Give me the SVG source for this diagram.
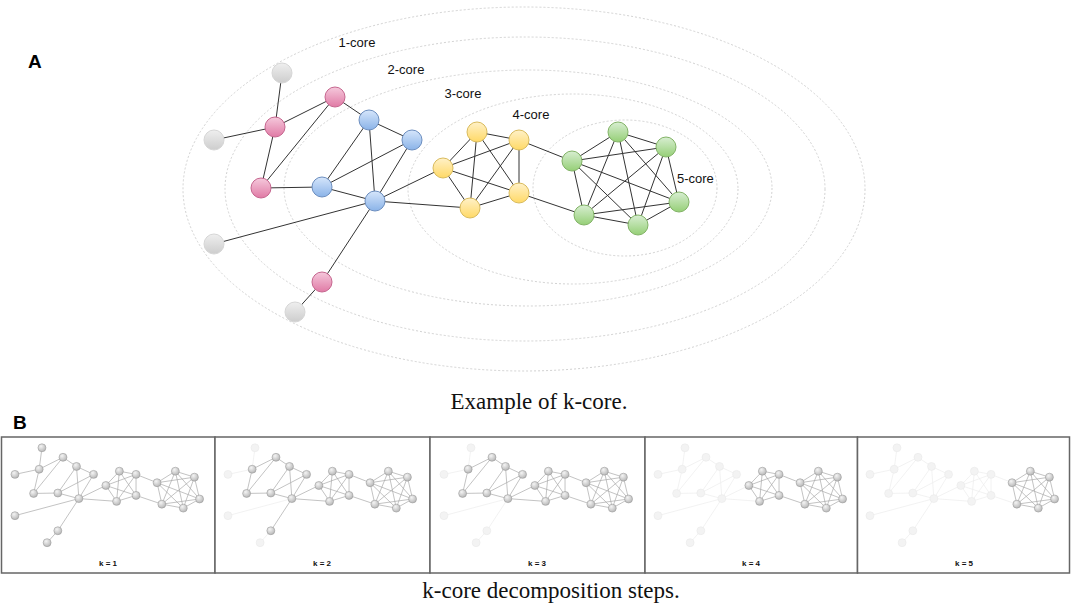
<svg xmlns="http://www.w3.org/2000/svg" xmlns:xlink="http://www.w3.org/1999/xlink" width="1072" height="607" viewBox="0 0 1072 607">
<style>
.ring{fill:none;stroke:#d2d2d2;stroke-width:1;stroke-dasharray:2 2}
.edge{stroke:#333;stroke-width:1;fill:none}
.lbl{font-family:"Liberation Sans",Arial,sans-serif;font-size:13px;fill:#111}
.hdr{font-family:"Liberation Sans",Arial,sans-serif;font-size:19px;font-weight:bold;fill:#000}
.cap{font-family:"Liberation Serif","Times New Roman",serif;font-size:23px;fill:#111;text-anchor:middle}
.klab{font-family:"Liberation Sans",Arial,sans-serif;font-size:8px;font-weight:bold;fill:#111;text-anchor:middle}
.pink{fill:url(#gp);stroke:#c6668f;stroke-width:1}
.blue{fill:url(#gb);stroke:#6c8ebf;stroke-width:1}
.yel{fill:url(#gy);stroke:#d9bb5c;stroke-width:1}
.grn{fill:url(#gg);stroke:#82b366;stroke-width:1}
.gry{fill:url(#gq);stroke:#d6d6d6;stroke-width:1}
.frame{fill:#fff;stroke:#666;stroke-width:1.5}
.me{fill:none;stroke:#ababab;stroke-width:1.8}
.mef{fill:none;stroke:#ececec;stroke-width:1.8}
.mn{fill:url(#gm);stroke:#9c9c9c;stroke-width:1.5}
.mnf{fill:#f3f3f3;stroke:#e9e9e9;stroke-width:1.5}
</style>
<defs>
<linearGradient id="gp" x1="0" y1="0" x2="0" y2="1"><stop offset="0" stop-color="#f5c9dc"/><stop offset="1" stop-color="#e07aa5"/></linearGradient>
<linearGradient id="gb" x1="0" y1="0" x2="0" y2="1"><stop offset="0" stop-color="#d6e6fb"/><stop offset="1" stop-color="#8ab3e8"/></linearGradient>
<linearGradient id="gy" x1="0" y1="0" x2="0" y2="1"><stop offset="0" stop-color="#fff1c8"/><stop offset="1" stop-color="#ffd966"/></linearGradient>
<linearGradient id="gg" x1="0" y1="0" x2="0" y2="1"><stop offset="0" stop-color="#d8eed2"/><stop offset="1" stop-color="#95cf76"/></linearGradient>
<linearGradient id="gq" x1="0" y1="0" x2="0" y2="1"><stop offset="0" stop-color="#efefef"/><stop offset="1" stop-color="#cdcdcd"/></linearGradient>
<radialGradient id="gm" cx="0.38" cy="0.32" r="0.75"><stop offset="0" stop-color="#f4f4f4"/><stop offset="1" stop-color="#b3b3b3"/></radialGradient>
<path id="E_gray" d="M282 73L275 127M214 140L275 127M375 201L214 244M322 282L295 312"/>
<path id="E_p4" d="M375 201L322 282"/>
<path id="E_pb" d="M275 127L335 97M275 127L261 188M335 97L261 188M335 97L369 120M261 188L322 187M369 120L322 187M369 120L375 201M369 120L412 140M412 140L322 187M412 140L375 201M322 187L375 201"/>
<path id="E_by" d="M375 201L443 168M375 201L470 208"/>
<path id="E_y" d="M477 132L519 140M477 132L443 168M477 132L519 193M477 132L470 208M519 140L443 168M519 140L519 193M519 140L470 208M443 168L519 193M443 168L470 208M519 193L470 208"/>
<path id="E_yg" d="M519 140L572 161M519 193L584 215"/>
<path id="E_g" d="M572 161L618 132M572 161L666 147M572 161L679 202M572 161L638 225M572 161L584 215M618 132L666 147M618 132L679 202M618 132L638 225M618 132L584 215M666 147L679 202M666 147L638 225M666 147L584 215M679 202L638 225M679 202L584 215M638 225L584 215"/>
<g id="N_gray"><circle cx="282" cy="73" r="10"/><circle cx="214" cy="140" r="10"/><circle cx="214" cy="244" r="10"/><circle cx="295" cy="312" r="10"/></g>
<g id="N_p4"><circle cx="322" cy="282" r="10"/></g>
<g id="N_pb"><circle cx="335" cy="97" r="10"/><circle cx="275" cy="127" r="10"/><circle cx="261" cy="188" r="10"/><circle cx="369" cy="120" r="10"/><circle cx="412" cy="140" r="10"/><circle cx="322" cy="187" r="10"/><circle cx="375" cy="201" r="10"/></g>
<g id="N_y"><circle cx="477" cy="132" r="10"/><circle cx="519" cy="140" r="10"/><circle cx="443" cy="168" r="10"/><circle cx="519" cy="193" r="10"/><circle cx="470" cy="208" r="10"/></g>
<g id="N_g"><circle cx="572" cy="161" r="10"/><circle cx="618" cy="132" r="10"/><circle cx="666" cy="147" r="10"/><circle cx="679" cy="202" r="10"/><circle cx="638" cy="225" r="10"/><circle cx="584" cy="215" r="10"/></g>
</defs>
<rect width="1072" height="607" fill="#fff"/>
<g id="rings">
<ellipse class="ring" cx="524" cy="189" rx="341" ry="182"/>
<ellipse class="ring" cx="525" cy="189" rx="300" ry="152"/>
<ellipse class="ring" cx="528" cy="188" rx="244" ry="118"/>
<ellipse class="ring" cx="573" cy="189" rx="165" ry="95"/>
<ellipse class="ring" cx="625" cy="188" rx="92" ry="68"/>
</g>
<g id="core-labels">
<text class="lbl" x="357" y="47" text-anchor="middle">1-core</text>
<text class="lbl" x="406" y="74" text-anchor="middle">2-core</text>
<text class="lbl" x="463" y="98" text-anchor="middle">3-core</text>
<text class="lbl" x="531" y="119" text-anchor="middle">4-core</text>
<text class="lbl" x="677" y="183">5-core</text>
</g>
<text class="hdr" x="28" y="68">A</text>
<g id="connectors" class="edge">
<line x1="282" y1="73" x2="275" y2="127"/>
<line x1="214" y1="140" x2="275" y2="127"/>
<line x1="275" y1="127" x2="335" y2="97"/>
<line x1="275" y1="127" x2="261" y2="188"/>
<line x1="335" y1="97" x2="261" y2="188"/>
<line x1="335" y1="97" x2="369" y2="120"/>
<line x1="261" y1="188" x2="322" y2="187"/>
<line x1="369" y1="120" x2="322" y2="187"/>
<line x1="369" y1="120" x2="375" y2="201"/>
<line x1="369" y1="120" x2="412" y2="140"/>
<line x1="412" y1="140" x2="322" y2="187"/>
<line x1="412" y1="140" x2="375" y2="201"/>
<line x1="322" y1="187" x2="375" y2="201"/>
<line x1="375" y1="201" x2="214" y2="244"/>
<line x1="375" y1="201" x2="322" y2="282"/>
<line x1="322" y1="282" x2="295" y2="312"/>
<line x1="375" y1="201" x2="443" y2="168"/>
<line x1="375" y1="201" x2="470" y2="208"/>
<line x1="477" y1="132" x2="519" y2="140"/>
<line x1="477" y1="132" x2="443" y2="168"/>
<line x1="477" y1="132" x2="519" y2="193"/>
<line x1="477" y1="132" x2="470" y2="208"/>
<line x1="519" y1="140" x2="443" y2="168"/>
<line x1="519" y1="140" x2="519" y2="193"/>
<line x1="519" y1="140" x2="470" y2="208"/>
<line x1="443" y1="168" x2="519" y2="193"/>
<line x1="443" y1="168" x2="470" y2="208"/>
<line x1="519" y1="193" x2="470" y2="208"/>
<line x1="519" y1="140" x2="572" y2="161"/>
<line x1="519" y1="193" x2="584" y2="215"/>
<line x1="572" y1="161" x2="618" y2="132"/>
<line x1="572" y1="161" x2="666" y2="147"/>
<line x1="572" y1="161" x2="679" y2="202"/>
<line x1="572" y1="161" x2="638" y2="225"/>
<line x1="572" y1="161" x2="584" y2="215"/>
<line x1="618" y1="132" x2="666" y2="147"/>
<line x1="618" y1="132" x2="679" y2="202"/>
<line x1="618" y1="132" x2="638" y2="225"/>
<line x1="618" y1="132" x2="584" y2="215"/>
<line x1="666" y1="147" x2="679" y2="202"/>
<line x1="666" y1="147" x2="638" y2="225"/>
<line x1="666" y1="147" x2="584" y2="215"/>
<line x1="679" y1="202" x2="638" y2="225"/>
<line x1="679" y1="202" x2="584" y2="215"/>
<line x1="638" y1="225" x2="584" y2="215"/>
</g>
<g id="node-g1"><circle class="gry" cx="282" cy="73" r="10"/></g>
<g id="node-g2"><circle class="gry" cx="214" cy="140" r="10"/></g>
<g id="node-g3"><circle class="gry" cx="214" cy="244" r="10"/></g>
<g id="node-g4"><circle class="gry" cx="295" cy="312" r="10"/></g>
<g id="node-p1"><circle class="pink" cx="335" cy="97" r="10"/></g>
<g id="node-p2"><circle class="pink" cx="275" cy="127" r="10"/></g>
<g id="node-p3"><circle class="pink" cx="261" cy="188" r="10"/></g>
<g id="node-p4"><circle class="pink" cx="322" cy="282" r="10"/></g>
<g id="node-b1"><circle class="blue" cx="369" cy="120" r="10"/></g>
<g id="node-b2"><circle class="blue" cx="412" cy="140" r="10"/></g>
<g id="node-b3"><circle class="blue" cx="322" cy="187" r="10"/></g>
<g id="node-b4"><circle class="blue" cx="375" cy="201" r="10"/></g>
<g id="node-y1"><circle class="yel" cx="477" cy="132" r="10"/></g>
<g id="node-y2"><circle class="yel" cx="519" cy="140" r="10"/></g>
<g id="node-y3"><circle class="yel" cx="443" cy="168" r="10"/></g>
<g id="node-y4"><circle class="yel" cx="519" cy="193" r="10"/></g>
<g id="node-y5"><circle class="yel" cx="470" cy="208" r="10"/></g>
<g id="node-G1"><circle class="grn" cx="572" cy="161" r="10"/></g>
<g id="node-G2"><circle class="grn" cx="618" cy="132" r="10"/></g>
<g id="node-G3"><circle class="grn" cx="666" cy="147" r="10"/></g>
<g id="node-G4"><circle class="grn" cx="679" cy="202" r="10"/></g>
<g id="node-G5"><circle class="grn" cx="638" cy="225" r="10"/></g>
<g id="node-G6"><circle class="grn" cx="584" cy="215" r="10"/></g>
<text class="cap" x="539" y="409">Example of k-core.</text>
<text class="hdr" x="13" y="429">B</text>
<g id="panel-k1">
<rect class="frame" x="1.5" y="437" width="213.5" height="136"/>
<g transform="translate(-70 418.8) scale(0.397)">
<use href="#E_gray" class="me"/><use href="#E_p4" class="me"/><use href="#E_pb" class="me"/><use href="#E_by" class="me"/><use href="#E_y" class="me"/><use href="#E_yg" class="me"/><use href="#E_g" class="me"/>
<use href="#N_gray" class="mn"/><use href="#N_p4" class="mn"/><use href="#N_pb" class="mn"/><use href="#N_y" class="mn"/><use href="#N_g" class="mn"/>
</g>
<text class="klab" x="108" y="566">k = 1</text>
</g>
<g id="panel-k2">
<rect class="frame" x="215" y="437" width="215" height="136"/>
<g transform="translate(143 418.8) scale(0.397)">
<use href="#E_gray" class="mef"/><use href="#E_p4" class="me"/><use href="#E_pb" class="me"/><use href="#E_by" class="me"/><use href="#E_y" class="me"/><use href="#E_yg" class="me"/><use href="#E_g" class="me"/>
<use href="#N_gray" class="mnf"/><use href="#N_p4" class="mn"/><use href="#N_pb" class="mn"/><use href="#N_y" class="mn"/><use href="#N_g" class="mn"/>
</g>
<text class="klab" x="322" y="566">k = 2</text>
</g>
<g id="panel-k3">
<rect class="frame" x="430" y="437" width="215" height="136"/>
<g transform="translate(359 418.8) scale(0.397)">
<use href="#E_gray" class="mef"/><use href="#E_p4" class="mef"/><use href="#E_pb" class="me"/><use href="#E_by" class="me"/><use href="#E_y" class="me"/><use href="#E_yg" class="me"/><use href="#E_g" class="me"/>
<use href="#N_gray" class="mnf"/><use href="#N_p4" class="mnf"/><use href="#N_pb" class="mn"/><use href="#N_y" class="mn"/><use href="#N_g" class="mn"/>
</g>
<text class="klab" x="537" y="566">k = 3</text>
</g>
<g id="panel-k4">
<rect class="frame" x="645" y="437" width="212.5" height="136"/>
<g transform="translate(573 418.8) scale(0.397)">
<use href="#E_gray" class="mef"/><use href="#E_p4" class="mef"/><use href="#E_pb" class="mef"/><use href="#E_by" class="mef"/><use href="#E_y" class="me"/><use href="#E_yg" class="me"/><use href="#E_g" class="me"/>
<use href="#N_gray" class="mnf"/><use href="#N_p4" class="mnf"/><use href="#N_pb" class="mnf"/><use href="#N_y" class="mn"/><use href="#N_g" class="mn"/>
</g>
<text class="klab" x="751" y="566">k = 4</text>
</g>
<g id="panel-k5">
<rect class="frame" x="857.5" y="437" width="212" height="136"/>
<g transform="translate(785 418.8) scale(0.397)">
<use href="#E_gray" class="mef"/><use href="#E_p4" class="mef"/><use href="#E_pb" class="mef"/><use href="#E_by" class="mef"/><use href="#E_y" class="mef"/><use href="#E_yg" class="mef"/><use href="#E_g" class="me"/>
<use href="#N_gray" class="mnf"/><use href="#N_p4" class="mnf"/><use href="#N_pb" class="mnf"/><use href="#N_y" class="mnf"/><use href="#N_g" class="mn"/>
</g>
<text class="klab" x="964" y="566">k = 5</text>
</g>
<text class="cap" x="551" y="598">k-core decomposition steps.</text>
</svg>
